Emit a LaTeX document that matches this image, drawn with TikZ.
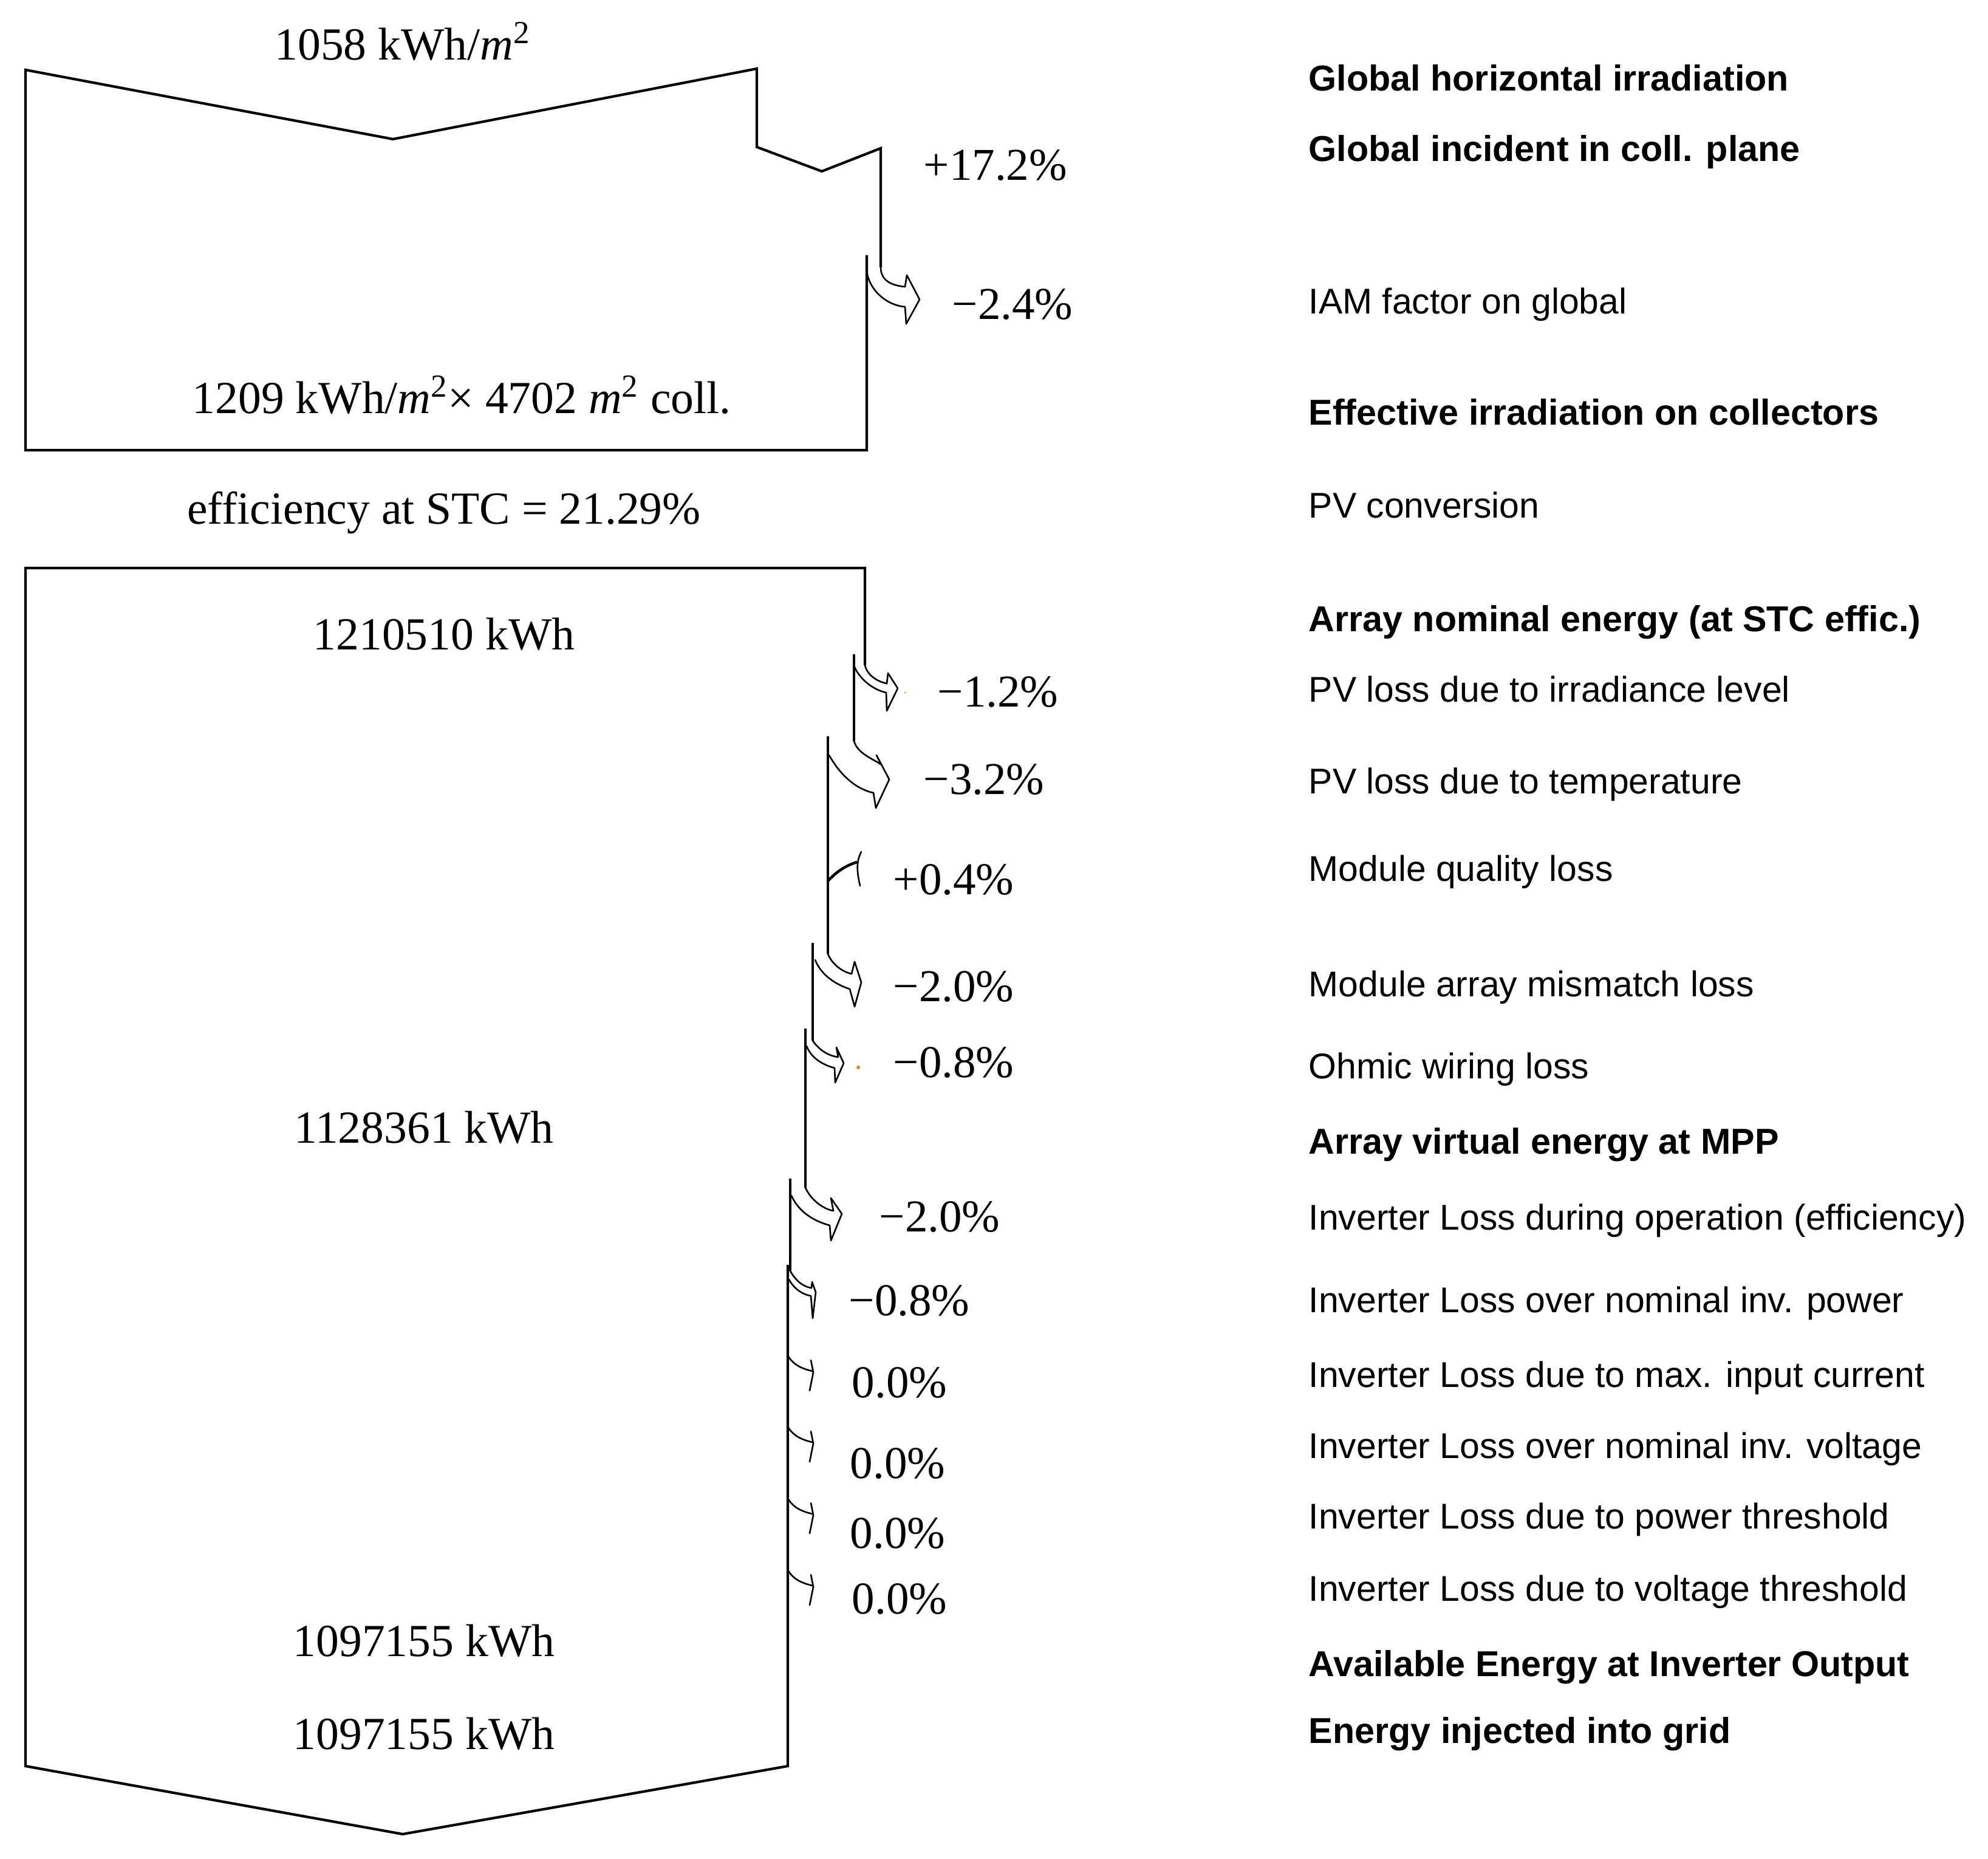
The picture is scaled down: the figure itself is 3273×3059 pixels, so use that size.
\documentclass[tikz,border=0pt]{standalone}
\usepackage{fontspec}
\setmainfont{Liberation Serif}
\newfontfamily\labfont{Liberation Sans}
\begin{document}
\begin{tikzpicture}[x=0.01cm,y=-0.01cm,
  flow/.style={line width=1.2pt, line join=miter},
  loss/.style={line width=0.75pt, line join=round, line cap=round},
  val/.style={inner sep=0pt, anchor=base, font=\fontsize{21.5}{25}\selectfont},
  pct/.style={inner sep=0pt, anchor=base west, font=\fontsize{21.34}{25}\selectfont},
  lab/.style={inner sep=0pt, anchor=base west, font=\labfont\fontsize{16.75}{20}\selectfont},
  labb/.style={lab, font=\labfont\bfseries\fontsize{16.85}{20}\selectfont}]
\useasboundingbox (0,0) rectangle (3273,3059);

% ---------- upper flow (irradiation) ----------
\draw[flow] (1427,420) -- (1427,741) -- (42,741) -- (42,115) -- (647,229) -- (1246,113)
  -- (1246,242) -- (1353,282) -- (1450,244) -- (1450,440);
% IAM loss arrow
\draw[loss] (1450,440) .. controls (1450,462) and (1468,470) .. (1490,472) -- (1493,453)
  -- (1514,493) -- (1492,533) -- (1490,505) .. controls (1462,503) and (1432,480) .. (1427,447);

% ---------- lower flow (energy) ----------
\draw[flow] (1297,2082) -- (1297,2907) -- (663,3019) -- (42,2907) -- (42,935) -- (1424,935) -- (1424,1095);
\draw[flow] (1406,1077) -- (1406,1220);
\draw[flow] (1363,1212) -- (1363,1570);
\draw[flow] (1338,1552) -- (1338,1713);
\draw[flow] (1326,1693) -- (1326,1955);
\draw[flow] (1301,1940) -- (1301,2092);

% -1.2%
\draw[loss] (1424,1095) .. controls (1428,1112) and (1445,1122) .. (1460,1125) -- (1462,1108)
  -- (1478,1133) -- (1460,1170) -- (1459,1140) .. controls (1435,1135) and (1414,1115) .. (1407,1098);
% -3.2%
\draw[loss] (1406,1220) .. controls (1412,1240) and (1435,1248) .. (1450,1258) -- (1443,1243)
  -- (1464,1283) -- (1442,1330) -- (1438,1305) .. controls (1405,1298) and (1380,1270) .. (1365,1243);
% +0.4%
\draw[line width=1.3pt] (1363,1450) .. controls (1380,1432) and (1395,1424) .. (1411,1419);
\draw[loss] (1418,1402) .. controls (1410,1418) and (1410,1432) .. (1416,1458);
% -2.0% mismatch
\draw[loss] (1363,1570) .. controls (1370,1588) and (1388,1600) .. (1402,1603) -- (1407,1583)
  -- (1418,1617) -- (1407,1657) -- (1399,1628) .. controls (1375,1620) and (1352,1605) .. (1342,1580);
% -0.8% ohmic
\draw[loss] (1338,1713) .. controls (1350,1730) and (1365,1738) .. (1380,1740) -- (1377,1724)
  -- (1389,1750) -- (1375,1782) -- (1374,1758) .. controls (1352,1752) and (1335,1740) .. (1328,1722);
% -2.0% inverter
\draw[loss] (1326,1955) .. controls (1335,1975) and (1355,1990) .. (1372,1993) -- (1368,1972)
  -- (1386,1998) -- (1368,2042) -- (1366,2017) .. controls (1340,2010) and (1315,1995) .. (1303,1968);
% -0.8% inverter
\draw[loss] (1301,2092) .. controls (1310,2108) and (1322,2118) .. (1336,2120) -- (1337,2110)
  -- (1343,2127) -- (1338,2170) -- (1335,2133) .. controls (1318,2130) and (1305,2118) .. (1299,2106);
% 0.0% arrows
\foreach \yy in {2231,2348,2466,2584}{
  \draw[loss] (1297,\yy) .. controls (1305,\yy+15) and (1320,\yy+22) .. (1338,\yy+26);
  \draw[loss] (1335,\yy+8) -- (1339,\yy+28) -- (1333,\yy+58);
}
% small orange specks
\fill[orange!80!brown] (1490,1140) circle (1.5);
\fill[orange!80!brown] (1413,1757) circle (3);

% ---------- values ----------
\node[val] (v1) at (663,98) {1058 kWh/\textit{m}\textsuperscript{2}};
\node[val] (v2) at (760,680) {1209 kWh/\textit{m}\textsuperscript{2}× 4702 \textit{m}\textsuperscript{2} coll.};
\node[val] (v3) at (731,862) {efficiency at STC = 21.29\%};
\node[val] (v4) at (731,1069) {1210510 kWh};
\node[val] (v5) at (698,1881) {1128361 kWh};
\node[val] (v6) at (698,2726) {1097155 kWh};
\node[val] (v7) at (698,2879) {1097155 kWh};

% ---------- percentages ----------
\node[pct] (p1) at (1520,296) {+17.2\%};
\node[pct] (p2) at (1567,525) {−2.4\%};
\node[pct] (p3) at (1543,1163) {−1.2\%};
\node[pct] (p4) at (1520,1307) {−3.2\%};
\node[pct] (p5) at (1470,1472) {+0.4\%};
\node[pct] (p6) at (1470,1648) {−2.0\%};
\node[pct] (p7) at (1470,1773) {−0.8\%};
\node[pct] (p8) at (1447,2027) {−2.0\%};
\node[pct] (p9) at (1397,2165) {−0.8\%};
\node[pct] (p10) at (1402,2300) {0.0\%};
\node[pct] (p11) at (1399,2433) {0.0\%};
\node[pct] (p12) at (1399,2548) {0.0\%};
\node[pct] (p13) at (1402,2656) {0.0\%};

% ---------- labels ----------
\node[labb] (l1) at (2154,149) {Global horizontal irradiation};
\node[labb] (l2) at (2154,265) {Global incident in coll. plane};
\node[lab]  (l3) at (2154,516) {IAM factor on global};
\node[labb] (l4) at (2154,699) {Effective irradiation on collectors};
\node[lab]  (l5) at (2154,852) {PV conversion};
\node[labb] (l6) at (2154,1039) {Array nominal energy (at STC effic.)};
\node[lab]  (l7) at (2154,1155) {PV loss due to irradiance level};
\node[lab]  (l8) at (2154,1306) {PV loss due to temperature};
\node[lab]  (l9) at (2154,1450) {Module quality loss};
\node[lab]  (l10) at (2154,1640) {Module array mismatch loss};
\node[lab]  (l11) at (2154,1775) {Ohmic wiring loss};
\node[labb] (l12) at (2154,1899) {Array virtual energy at MPP};
\node[lab]  (l13) at (2154,2024) {Inverter Loss during operation (efficiency)};
\node[lab]  (l14) at (2154,2160) {Inverter Loss over nominal inv. power};
\node[lab]  (l15) at (2154,2283) {Inverter Loss due to max. input current};
\node[lab]  (l16) at (2154,2400) {Inverter Loss over nominal inv. voltage};
\node[lab]  (l17) at (2154,2516) {Inverter Loss due to power threshold};
\node[lab]  (l18) at (2154,2635) {Inverter Loss due to voltage threshold};
\node[labb] (l19) at (2154,2759) {Available Energy at Inverter Output};
\node[labb] (l20) at (2154,2869) {Energy injected into grid};
\end{tikzpicture}
\end{document}
